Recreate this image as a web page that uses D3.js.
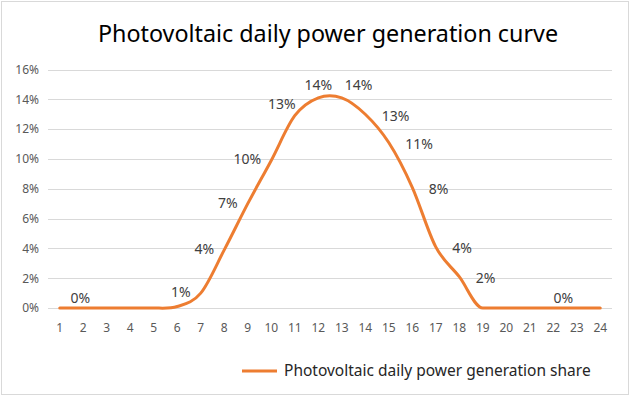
<!DOCTYPE html>
<html>
<head>
<meta charset="utf-8">
<script src="https://cdn.jsdelivr.net/npm/d3@7"></script>
<style>
  html, body { margin: 0; padding: 0; background: #fff; }
  svg text { font-family: "Noto Sans", "Open Sans", sans-serif; }
</style>
</head>
<body>
<div id="chart"></div>
<script>
// 数据
const hours = d3.range(1, 25).map(String)
const share = [0, 0, 0, 0, 0, 0.1, 1.0, 3.9, 7.0, 9.9, 12.9, 14.1,
               14.1, 13.0, 11.1, 8.1, 4.1, 2.1, 0, 0, 0, 0, 0, 0]
const labels = ["", "0%", "", "", "", "", "1%", "4%", "7%", "10%", "13%", "14%",
                "14%", "13%", "11%", "8%", "4%", "2%", "", "", "", "0%", "", ""]
const yTicks = [0, 2, 4, 6, 8, 10, 12, 14, 16]
const title = "Photovoltaic daily power generation curve"
const seriesName = "Photovoltaic daily power generation share"

const width = 631, height = 396
const orange = "#ED7D31"

const svg = d3.select("#chart").append("svg")
    .attr("width", width)
    .attr("height", height)

// 外框
svg.append("rect")
    .attr("x", 1.5).attr("y", 1.5)
    .attr("width", 627).attr("height", 393)
    .attr("fill", "#fff")
    .attr("stroke", "#d9d9d9")

svg.append("text")
    .attr("x", 328).attr("y", 42)
    .attr("text-anchor", "middle")
    .attr("font-size", 23.3)
    .attr("fill", "#000")
    .text(title)

const x = d3.scaleBand().domain(hours).range([48, 612])
const y = d3.scaleLinear().domain([0, 16]).range([308, 69.5])
const cx = h => x(h) + x.bandwidth() / 2

// 网格线
svg.append("g")
    .selectAll("line")
    .data(yTicks)
    .join("line")
    .attr("x1", 48).attr("x2", 612)
    .attr("y1", d => Math.round(y(d)) + 0.5)
    .attr("y2", d => Math.round(y(d)) + 0.5)
    .attr("stroke", "#d9d9d9")

// y 轴
const yAxis = svg.append("g")
    .attr("transform", "translate(39,0)")
    .call(d3.axisLeft(y).tickValues(yTicks).tickSize(0).tickPadding(0).tickFormat(d => d + "%"))
yAxis.select(".domain").remove()
yAxis.selectAll("text").attr("font-size", 12).attr("fill", "#595959")

// x 轴
const xAxis = svg.append("g")
    .attr("transform", "translate(0,315)")
    .call(d3.axisBottom(x).tickSize(0).tickPadding(8))
xAxis.select(".domain").remove()
xAxis.selectAll("text").attr("font-size", 12).attr("fill", "#595959")

// 平滑曲线：Catmull-Rom 切线，零值点切线置平（避免低于 0 的下冲）
function smoothPath(values) {
    const pts = values.map((v, i) => [cx(hours[i]), y(v), v])
    const n = pts.length
    const m = pts.map((p, i) => {
        if (p[2] === 0) return 0
        const a = pts[Math.max(i - 1, 0)], b = pts[Math.min(i + 1, n - 1)]
        return (b[1] - a[1]) / (b[0] - a[0])
    })
    const p = d3.path()
    p.moveTo(pts[0][0], pts[0][1])
    for (let i = 0; i < n - 1; i++) {
        const [x0, y0] = pts[i], [x1, y1] = pts[i + 1]
        const h = (x1 - x0) / 3
        p.bezierCurveTo(x0 + h, y0 + m[i] * h, x1 - h, y1 - m[i + 1] * h, x1, y1)
    }
    return p.toString()
}

svg.append("path")
    .attr("d", smoothPath(share))
    .attr("fill", "none")
    .attr("stroke", orange)
    .attr("stroke-width", 3)
    .attr("stroke-linecap", "round")

// 数据标签：峰值左侧标在左边，右侧标在右边
const peak = share.indexOf(d3.max(share))
svg.append("g")
    .selectAll("text")
    .data(share)
    .join("text")
    .each(function (d, i) {
        const el = d3.select(this)
        const px = cx(hours[i]), py = y(d)
        let tx = px, ty = py, anchor = "middle"
        if (d === 0) {
            tx = px + (i > peak ? 10 : -3); ty = py - 10
        } else if (i === peak - 1) {
            tx = px + 1; ty = py - 11.5; anchor = "end"
        } else if (i < peak) {
            tx = px - 10; ty = py - 1; anchor = "end"
        } else if (i === peak) {
            ty = py - 13
        } else if (i === peak + 1) {
            tx = px + 3; ty = py - 13; anchor = "start"
        } else {
            tx = px + 16.5; ty = py + 1.5; anchor = "start"
        }
        el.attr("x", tx).attr("y", ty)
            .attr("dy", "0.35em")
            .attr("text-anchor", anchor)
            .attr("font-size", 14)
            .attr("fill", "#404040")
            .text(labels[i])
    })

// 图例
const legend = svg.append("g").attr("transform", "translate(242,371)")
legend.append("line")
    .attr("x1", 0).attr("x2", 35)
    .attr("stroke", orange).attr("stroke-width", 3)
legend.append("text")
    .attr("x", 42).attr("dy", "0.35em")
    .attr("font-size", 15.5)
    .attr("fill", "#262626")
    .text(seriesName)
</script>
</body>
</html>
